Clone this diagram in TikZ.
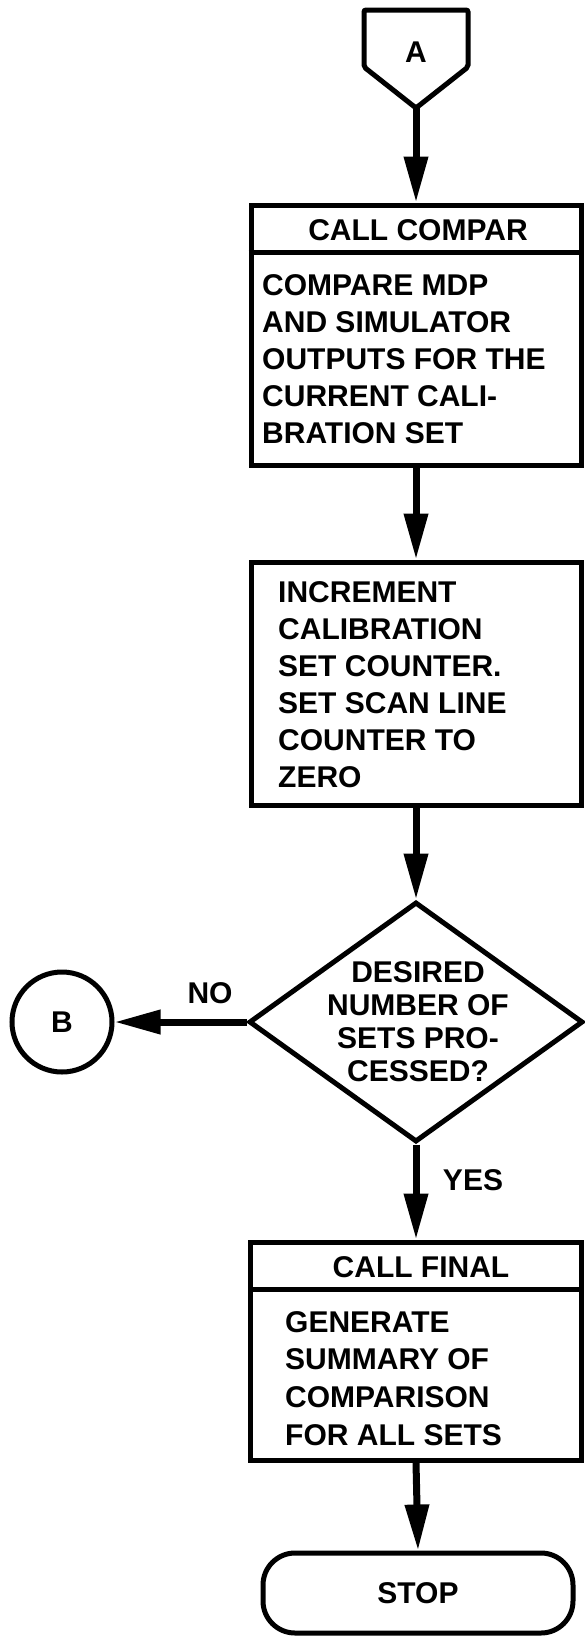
\documentclass[tikz,border=0pt]{standalone}
\usepackage{fontspec}
\setmainfont{Liberation Sans}
\usetikzlibrary{shapes.geometric,arrows.meta}
\begin{document}
\begin{tikzpicture}[x=1pt,y=-1pt,
  box/.style={draw, line width=5pt, inner sep=0pt, rectangle},
  conn/.style={line width=7pt, -{Triangle[length=46pt,width=23pt]}},
  lbl/.style={font=\bfseries\fontsize{30}{37}\selectfont, inner sep=0pt},
  body/.style={lbl, align=left, anchor=north west},
  divider/.style={line width=5pt}]
\useasboundingbox (0,0) rectangle (585,1638);

% connector A
\draw[line width=5pt, rounded corners=2pt] (364,10) -- (468,10) -- (468,67) -- (416,108) -- (364,67) -- cycle;
\coordinate (Ap) at (416,108);
\node[lbl] (A) at (416,52) {A};

% box 1
\node[box, minimum width=330pt, minimum height=260pt] (c1) at (416,335) {};
\draw[divider] ([yshift=-50pt]c1.north west) -- ([yshift=-50pt]c1.north east);
\node[lbl] (h1) at (418,230) {CALL COMPAR};
\node[body] (t1) at (262,274) {COMPARE MDP\\AND SIMULATOR\\OUTPUTS FOR THE\\CURRENT CALI-\\BRATION SET};

% box 2
\node[box, minimum width=330pt, minimum height=243pt] (c2) at (416,683.5) {};
\node[body] (t2) at (278,581) {INCREMENT\\CALIBRATION\\SET COUNTER.\\SET SCAN LINE\\COUNTER TO\\ZERO};

% decision
\node[draw, diamond, line width=5pt, inner sep=0pt, minimum width=334pt, minimum height=240pt] (dec) at (416,1022) {};
\node[lbl, font=\bfseries\fontsize{30}{33}\selectfont, align=center] (t3) at (418,1022) {DESIRED\\NUMBER OF\\SETS PRO-\\CESSED?};

% connector B
\node[draw, circle, line width=5pt, inner sep=0pt, minimum size=100pt, font=\bfseries\fontsize{30}{37}\selectfont] (B) at (62,1022) {B};

% box 3
\node[box, minimum width=331pt, minimum height=218pt] (c3) at (416,1351) {};
\draw[divider] ([yshift=-50pt]c3.north west) -- ([yshift=-50pt]c3.north east);
\node[lbl] (h3) at (421,1267) {CALL FINAL};
\node[body, font=\bfseries\fontsize{30}{37.7}\selectfont] (t4) at (285,1311) {GENERATE\\SUMMARY OF\\COMPARISON\\FOR ALL SETS};

% stop
\node[draw, line width=5pt, rounded corners=32pt, minimum width=310pt, minimum height=80pt, inner sep=0pt, font=\bfseries\fontsize{30}{37}\selectfont] (stop) at (418,1593) {STOP};

% connectors
\draw[conn] (Ap) -- (c1.north);
\draw[conn] (c1.south) -- (c2.north);
\draw[conn] (c2.south) -- (dec.north);
\draw[conn] (dec.south) -- (c3.north);
\draw[conn] (c3.south) -- (stop.north);
\draw[conn] (dec.west) -- (B.east);
\node[lbl] (no) at (210,993) {NO};
\node[lbl] (yes) at (473,1180) {YES};
\end{tikzpicture}
\end{document}
